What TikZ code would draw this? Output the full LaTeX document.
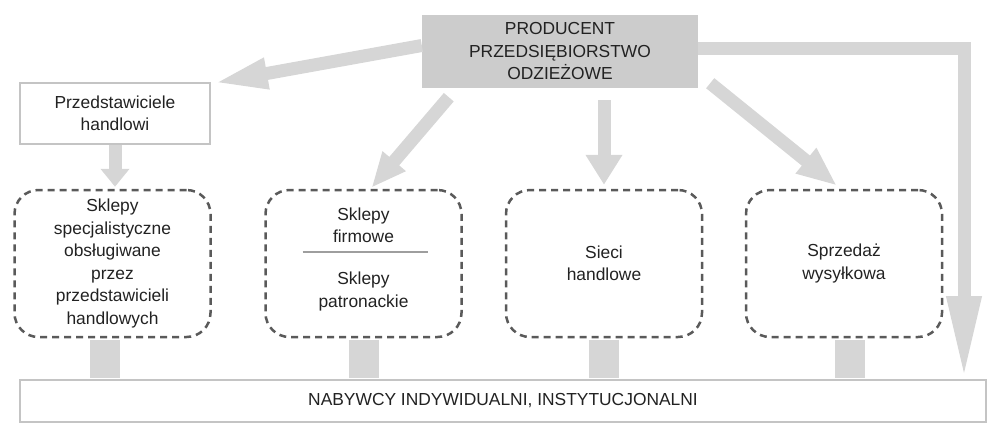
\documentclass[tikz,border=0pt]{standalone}
\usepackage{fontspec}
\setmainfont{Liberation Sans}
\usetikzlibrary{arrows.meta,calc}

\definecolor{prodgray}{HTML}{CCCCCC}
\definecolor{arrowgray}{HTML}{D6D6D6}
\definecolor{dashgray}{HTML}{5A5A5A}
\definecolor{framegray}{HTML}{C4C4C4}
\definecolor{linegray}{HTML}{9E9E9E}
\definecolor{txt}{HTML}{222222}

\tikzstyle{txtfont} = [font=\fontsize{17.4}{22.5}\selectfont, text=txt, align=center]
\tikzstyle{prod} = [txtfont, fill=prodgray, minimum width=276pt, minimum height=73pt, inner sep=0pt]
\tikzstyle{agent} = [txtfont, draw=framegray, line width=1.5pt, minimum width=190pt, minimum height=61pt, inner sep=0pt]
\tikzstyle{shop} = [txtfont, draw=dashgray, line width=2.5pt, dash pattern=on 7pt off 5pt, rounded corners=24pt, minimum width=196pt, minimum height=147pt, inner sep=0pt]
\tikzstyle{buyers} = [txtfont, draw=framegray, line width=2pt, minimum width=966pt, minimum height=42pt, inner sep=0pt]
\tikzstyle{fat} = [draw=arrowgray, line width=13pt]
\tikzstyle{stem} = [draw=arrowgray, line width=30pt, shorten <=1.5pt, shorten >=1pt]
\tikzstyle{sep} = [draw=linegray, line width=2pt]

\begin{document}
\begin{tikzpicture}[x=1pt, y=-1pt]
\useasboundingbox (0,0) rectangle (989,424);
%begin nodes
\node[prod] (prod) at (560,51.5) {PRODUCENT\\PRZEDSIĘBIORSTWO\\ODZIEŻOWE};
\node[agent] (agent) at (115,113.5) {Przedstawiciele\\handlowi};
\node[shop] (spec) at (112.5,263.5) {Sklepy\\specjalistyczne\\obsługiwane\\przez\\przedstawicieli\\handlowych};
\node[shop] (firm) at (363.5,263.5) {};
\node[txtfont] (firmtxt) at ($(firm.center)+(0,-38)$) {Sklepy\\firmowe};
\node[txtfont] (patrtxt) at ($(firm.center)+(0,28)$) {Sklepy\\patronackie};
\node[shop] (sieci) at (604,263.5) {Sieci\\handlowe};
\node[shop] (wysyl) at (844,263.5) {Sprzedaż\\wysyłkowa};
\node[buyers] (nab) at (503,401) {NABYWCY INDYWIDUALNI, INSTYTUCJONALNI};
%end nodes
%begin separator
\draw[sep] ($(firm.center)+(-61,-11.5)$) -- ($(firm.center)+(64,-11.5)$);
%end separator
%begin arrows from producent
\draw[fat, -{Triangle[length=55pt,width=28pt]}] ($(prod.west)+(0,-6)$) -- ($(agent.north east)+(2,1)$);
\draw[fat, -{Triangle[length=35pt,width=28pt]}] ($(prod.south west)+(27,9)$) -- ($(firm.north)+(8,-1)$);
\draw[fat, shorten <=12pt, shorten >=4pt, -{Triangle[length=30pt,width=35pt]}] (prod.south -| sieci.north) -- (sieci.north);
\draw[fat, -{Triangle[length=40pt,width=30pt]}] ($(prod.south east)+(12,-5)$) -- ($(wysyl.north)+(-7,-3)$);
\draw[fat, -{Triangle[length=83pt,width=32pt]}] ([yshift=3.5pt]prod.east) -| ([xshift=-23pt]nab.north east);
%end arrows from producent
%begin arrow from agent
\draw[fat, shorten >=2pt, -{Triangle[length=18pt,width=28pt]}] (agent.south) -- (agent.south |- spec.north);
%end arrow from agent
%begin stems to nabywcy
\draw[stem] ($(spec.south)+(-8,0)$) -- ($(spec.south |- nab.north)+(-8,0)$);
\draw[stem] (firm.south) -- (firm.south |- nab.north);
\draw[stem] (sieci.south) -- (sieci.south |- nab.north);
\draw[stem] ($(wysyl.south)+(6,0)$) -- ($(wysyl.south |- nab.north)+(6,0)$);
%end stems to nabywcy
\end{tikzpicture}
\end{document}
